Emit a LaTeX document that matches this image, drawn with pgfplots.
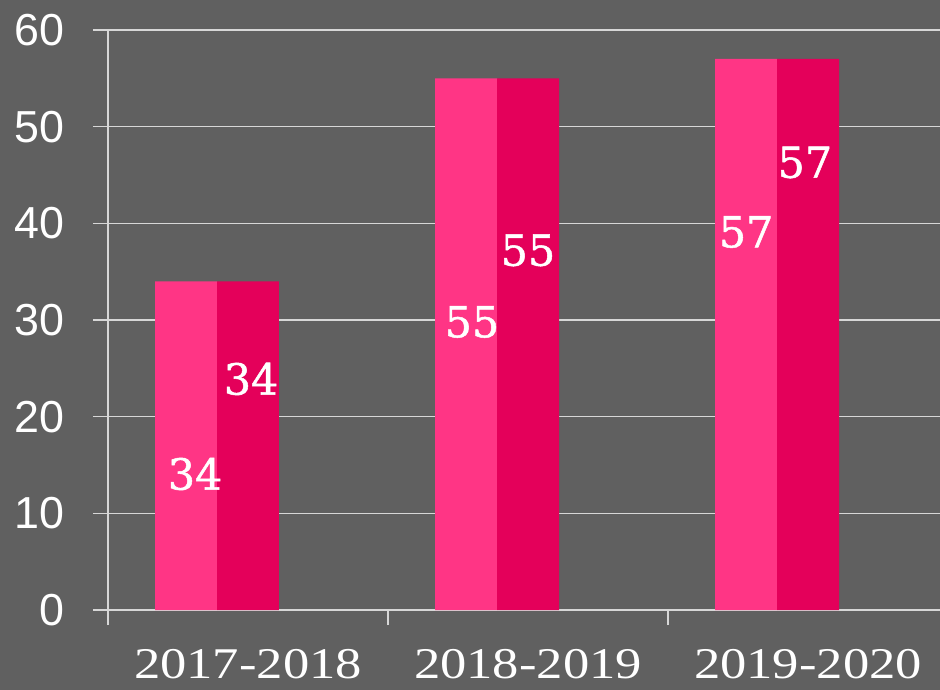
\documentclass[border=0pt]{standalone}
\usepackage{pgfplots}
\pgfplotsset{compat=1.18}
\usepackage{fontspec}
\setmainfont{Liberation Sans}
\newfontfamily\catfont[FakeStretch=1.2]{Liberation Serif}
\newfontfamily\valfont[FakeBold=1.2]{DejaVu Serif}
\definecolor{bg}{RGB}{96,96,96}
\definecolor{gridc}{RGB}{215,215,215}
\definecolor{pinkA}{RGB}{255,53,133}
\definecolor{pinkB}{RGB}{228,0,90}
\begin{document}
\begin{tikzpicture}
\fill[bg] (-108bp,-80bp) rectangle (832bp,610bp);
\begin{axis}[
  at={(0,0)}, anchor=south west,
  scale only axis, width=832bp, height=580bp,
  xmin=-0.5, xmax=2.4714, ymin=0, ymax=60,
  axis x line=bottom, axis y line=left,
  axis line style={-, draw=gridc, line width=1.5bp},
  ymajorgrids, grid style={draw=gridc, line width=1.5bp},
  ytick={0,10,...,60},
  xtick={-0.5,0.5,1.5,2.5}, xticklabels={},
  tick align=outside, major tick length=15bp,
  tick style={draw=gridc, line width=1.5bp},
  /pgf/number format/assume math mode=true,
  yticklabel style={font=\fontsize{45}{45}\selectfont, text=white, xshift=-25bp},
  extra x ticks={0,1,2},
  extra x tick labels={2017-2018,2018-2019,2019-2020},
  extra x tick style={major tick length=0pt, tick style={draw=none},
    xticklabel style={font=\catfont\fontsize{44}{44}\selectfont, text=white, yshift=-36bp}},
  ybar, bar width=0.2214,
  clip=false,
]
\addplot[fill=pinkA, draw=none, bar shift=-0.2214] coordinates {(0,34) (1,55) (2,57)};
\addplot[fill=pinkB, draw=none, bar shift=0] coordinates {(0,34) (1,55) (2,57)};
\begin{scope}[every node/.style={font=\valfont\fontsize{43}{43}\selectfont, text=white}]
\node at (axis cs:-0.189,14.07) {34};
\node at (axis cs:0.8,29.8) {55};
\node at (axis cs:1.779,39.1) {57};
\node at (axis cs:0.011,23.9) {34};
\node at (axis cs:1.0,37.2) {55};
\node at (axis cs:1.989,46.3) {57};
\end{scope}
\end{axis}
\pgfresetboundingbox
\path[use as bounding box] (-108bp,-80bp) rectangle (832bp,610bp);
\end{tikzpicture}
\end{document}
